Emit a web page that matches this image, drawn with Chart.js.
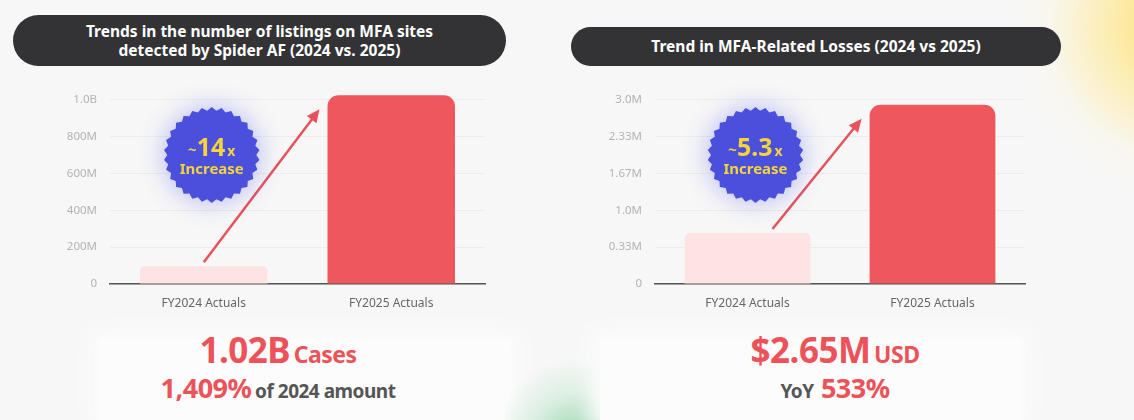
<!DOCTYPE html>
<html>
<head>
<meta charset="utf-8">
<script src="https://cdn.jsdelivr.net/npm/chart.js@4.4.1/dist/chart.umd.min.js"></script>
<style>
  html, body { margin: 0; padding: 0; }
  body {
    width: 1134px; height: 420px; position: relative; overflow: hidden;
    background: #f7f7f7;
    font-family: "Noto Sans", Lato, sans-serif;
  }
  .glow-yellow {
    position: absolute; left: 1000px; top: -110px; width: 300px; height: 300px;
    background: radial-gradient(circle at 62% 45%, rgba(255,222,95,0.95) 0%, rgba(255,232,140,0.55) 35%, rgba(255,245,200,0.2) 55%, rgba(255,255,255,0) 70%);
  }
  .glow-green {
    position: absolute; left: 505px; top: 355px; width: 100px; height: 100px;
    background: radial-gradient(circle at 75% 90%, rgba(110,200,140,0.75) 0%, rgba(160,220,180,0.3) 45%, rgba(255,255,255,0) 75%);
  }
  .card { position: absolute; background: #fcfcfc; box-shadow: 0 0 20px 10px #fcfcfc; }
  .pill {
    position: absolute; background: #333335; color: #fff; border-radius: 26px;
    font-weight: 700; font-size: 15.5px; text-align: center; line-height: 19px;
    display: flex; align-items: center; justify-content: center;
  }
  canvas { position: absolute; }
  .big { position: absolute; text-align: center; color: #ec5258; font-weight: 700; white-space: nowrap; letter-spacing: -0.5px; }
  .big .n { font-size: 35px; }
  .big .u { font-size: 23px; }
  .sub .g { color: #555; font-size: 19px; }
  .sub .n2 { font-size: 27px; }
</style>
</head>
<body>
<div class="glow-yellow"></div>
<div class="card" style="left:100px;top:340px;width:410px;height:80px;"></div>
<div class="glow-green"></div>
<div class="card" style="left:600px;top:340px;width:420px;height:80px;"></div>

<div class="pill" style="left:13px;top:15px;width:493px;height:51px;">Trends in the number of listings on MFA sites<br>detected by Spider AF (2024 vs. 2025)</div>
<div class="pill" style="left:571px;top:27px;width:490px;height:39px;">Trend in MFA-Related Losses (2024 vs 2025)</div>

<canvas id="c1"></canvas>
<canvas id="c2"></canvas>

<div class="big" style="left:78px;width:400px;top:326px;"><span class="n">1.02B</span> <span class="u">Cases</span></div>
<div class="big sub" style="left:78px;width:400px;top:369px;"><span class="n2">1,409%</span> <span class="g">of 2024 amount</span></div>
<div class="big" style="left:635px;width:400px;top:326px;"><span class="n">$2.65M</span> <span class="u">USD</span></div>
<div class="big sub" style="left:635px;width:400px;top:369px;"><span class="g">YoY</span>&nbsp; <span class="n2">533%</span></div>

<script>
const categories = ["FY2024 Actuals", "FY2025 Actuals"];
const barColors = ["#fde3e3", "#ee585d"];

// left chart: listings on MFA sites
const listings = [97000000, 1025000000];
const listingTicks = ["0", "200M", "400M", "600M", "800M", "1.0B"];
const listingBadge = ["~", "14", "x", "Increase"];

// right chart: losses
const losses = [830000, 2920000];
const lossTicks = ["0", "0.33M", "1.0M", "1.67M", "2.33M", "3.0M"];
const lossBadge = ["~", "5.3", "x", "Increase"];

function drawBadge(ctx, cx, cy, text) {
  const spikes = 30, outer = 48, inner = 44.5;
  ctx.save();
  ctx.beginPath();
  for (let i = 0; i < spikes * 2; i++) {
    const r = i % 2 === 0 ? outer : inner;
    const a = (Math.PI * i) / spikes - Math.PI / 2;
    const x = cx + r * Math.cos(a), y = cy + r * Math.sin(a);
    if (i === 0) ctx.moveTo(x, y); else ctx.lineTo(x, y);
  }
  ctx.closePath();
  ctx.shadowColor = "rgba(90,100,235,0.45)";
  ctx.shadowBlur = 26;
  ctx.fillStyle = "#4a50dc";
  ctx.fill();
  ctx.shadowBlur = 0;
  ctx.fillStyle = "#f4d43a";
  ctx.textBaseline = "alphabetic";
  ctx.textAlign = "left";
  const fonts = ["700 15px 'Noto Sans'", "700 25px 'Noto Sans'", "700 14px 'Noto Sans'"];
  const widths = text.slice(0, 3).map((t, i) => { ctx.font = fonts[i]; return ctx.measureText(t).width; });
  let x = cx - (widths[0] + widths[1] + widths[2] + 2) / 2;
  for (let i = 0; i < 3; i++) {
    ctx.font = fonts[i];
    ctx.fillText(text[i], x, cy + 1 - (i === 0 ? 1 : 0));
    x += widths[i] + (i === 1 ? 2 : 0);
  }
  ctx.textAlign = "center";
  ctx.font = "700 15px 'Noto Sans'";
  ctx.fillText(text[3], cx, cy + 19);
  ctx.restore();
}

const overlay = {
  id: "overlay",
  afterDatasetsDraw(chart, args, opts) {
    const ctx = chart.ctx;
    const bars = chart.getDatasetMeta(0).data;
    const b1 = bars[0], b2 = bars[1];
    // arrow from small bar towards big bar
    const sx = b1.x + opts.startDx, sy = b1.y - 4;
    const ex = b2.x - b2.width / 2 - 8, ey = b2.y + 14;
    const ang = Math.atan2(ey - sy, ex - sx);
    ctx.save();
    ctx.strokeStyle = "#e8525a";
    ctx.fillStyle = "#e8525a";
    ctx.lineWidth = 2.5;
    ctx.beginPath();
    ctx.moveTo(sx, sy);
    ctx.lineTo(ex - 8 * Math.cos(ang), ey - 8 * Math.sin(ang));
    ctx.stroke();
    ctx.beginPath();
    ctx.moveTo(ex, ey);
    ctx.lineTo(ex - 13 * Math.cos(ang) + 6 * Math.sin(ang), ey - 13 * Math.sin(ang) - 6 * Math.cos(ang));
    ctx.lineTo(ex - 13 * Math.cos(ang) - 6 * Math.sin(ang), ey - 13 * Math.sin(ang) + 6 * Math.cos(ang));
    ctx.closePath();
    ctx.fill();
    ctx.restore();
    drawBadge(ctx, b1.x + opts.badgeDx, chart.chartArea.top + 55, opts.text);
  }
};

function makeChart(id, left, width, yWidth, values, tickLabels, max, badgeText, startDx) {
  const el = document.getElementById(id);
  el.width = width; el.height = 240;
  el.style.left = left + "px";
  el.style.top = "80px";
  el.style.width = width + "px";
  el.style.height = "240px";
  return new Chart(el, {
    type: "bar",
    data: {
      labels: categories,
      datasets: [{
        data: values,
        backgroundColor: barColors,
        borderRadius: c => c.dataIndex === 0 ? { topLeft: 5, topRight: 5 } : { topLeft: 11, topRight: 11 },
        borderSkipped: "start",
        barPercentage: 0.68,
        categoryPercentage: 1,
        clip: false
      }]
    },
    options: {
      responsive: false,
      animation: false,
      devicePixelRatio: 1,
      layout: { padding: { top: 18, right: 15, left: 0, bottom: 0 } },
      plugins: {
        legend: { display: false },
        tooltip: { enabled: false },
        overlay: { text: badgeText, startDx: startDx, badgeDx: 8 }
      },
      scales: {
        x: {
          grid: { display: false, drawTicks: false },
          border: { color: "#555", width: 1.5 },
          ticks: { color: "#666", font: { size: 12, family: "'Noto Sans'" }, padding: 12 },
          afterFit: s => { s.height = 36; }
        },
        y: {
          min: 0, max: max,
          grid: { color: "#ececec", drawTicks: false },
          border: { display: false },
          ticks: {
            stepSize: max / 5,
            color: "#b3b3b3",
            padding: 13,
            font: { size: 11.5, family: "'Noto Sans'" },
            callback: (v, i) => tickLabels[i]
          },
          afterFit: s => { s.width = yWidth; }
        }
      }
    },
    plugins: [overlay]
  });
}

makeChart("c1", 0, 500, 110, listings, listingTicks, 1000000000, listingBadge, 0);
makeChart("c2", 560, 480, 95, losses, lossTicks, 3000000, lossBadge, 25);
</script>
</body>
</html>
